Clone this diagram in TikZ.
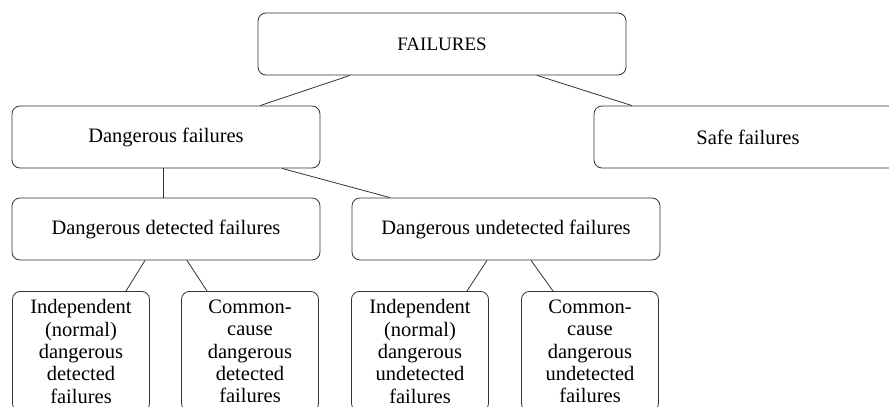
\documentclass[tikz,border=0pt]{standalone}
\usepackage{fontspec}
\setmainfont{Liberation Serif}
\begin{document}
\begin{tikzpicture}[x=1pt,y=-1pt,
    box/.style={draw=black!80, line width=0.8pt, rounded corners=8pt,
      minimum width=308pt, minimum height=62pt,
      font=\fontsize{20.5}{23}\selectfont},
    leaf/.style={draw=black!80, line width=0.8pt, rounded corners=8pt,
      anchor=north, text width=125pt, inner xsep=6pt, inner ysep=5pt,
      minimum height=120pt, align=center,
      font=\fontsize{20.5}{22.4}\selectfont},
    link/.style={draw=black!80, line width=0.8pt}]
    \useasboundingbox (0,0) rectangle (889,407);
    \clip (0,0) rectangle (889,407);
    % levels
    \node[box, minimum width=368pt, font=\fontsize{19}{22}\selectfont]
      (fail) at (442,44) {FAILURES};
    \node[box] (dang) at (166,137) {Dangerous failures};
    \node[box] (safe) at (748,137) {Safe failures};
    \node[box] (det) at (166,229) {Dangerous detected failures};
    \node[box] (undet) at (506,229) {Dangerous undetected failures};
    \node[leaf] (detind) at (81,291)
      {Independent\\(normal)\\dangerous\\detected\\failures};
    \node[leaf] (detcc) at (250,291)
      {Common-\\cause\\dangerous\\detected\\failures};
    \node[leaf] (undind) at (420,291)
      {Independent\\(normal)\\dangerous\\undetected\\failures};
    \node[leaf] (undcc) at (590,291)
      {Common-\\cause\\dangerous\\undetected\\failures};
    % links
    \draw[link] ([xshift=-92pt]fail.south) -- ([xshift=94pt]dang.north);
    \draw[link] ([xshift=95pt]fail.south) -- ([xshift=-116pt]safe.north);
    \draw[link] ([xshift=-3pt]dang.south) -- ([xshift=-3pt]det.north);
    \draw[link] ([xshift=116pt]dang.south) -- ([xshift=-116pt]undet.north);
    \draw[link] ([xshift=-21pt]det.south) -- ([xshift=45pt]detind.north);
    \draw[link] ([xshift=21pt]det.south) -- ([xshift=-43pt]detcc.north);
    \draw[link] ([xshift=-19pt]undet.south) -- ([xshift=47pt]undind.north);
    \draw[link] ([xshift=25pt]undet.south) -- ([xshift=-37pt]undcc.north);
  \end{tikzpicture}
\end{document}
